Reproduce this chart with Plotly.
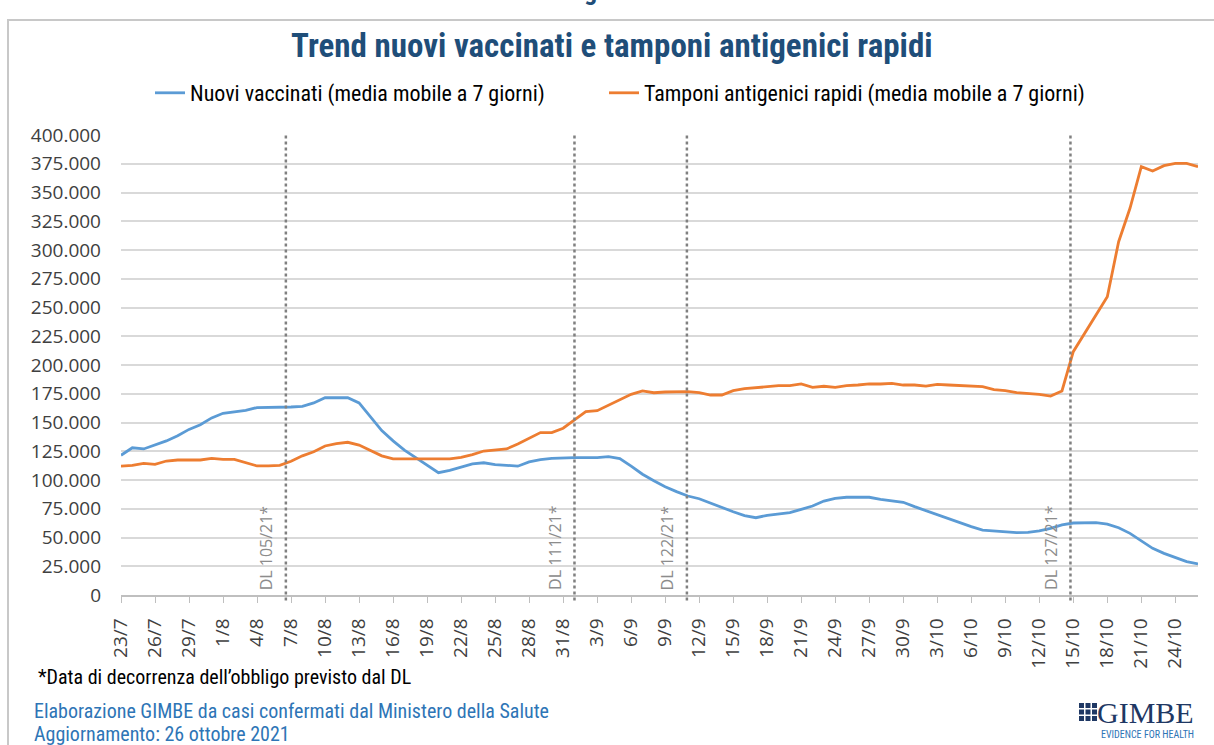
import pandas as pd
import plotly.graph_objects as go

# daily series, 23/7/2021 .. 26/10/2021 (7-day moving averages)
start_date = "2021-07-23"
end_date = "2021-10-26"

nuovi_vaccinati = [
    121500, 128000, 127000, 130500, 134000, 138500, 144000, 148000, 154000, 158000,
    159000, 160500, 163000, 163000, 163500, 163500, 164000, 167000, 171500, 171500,
    171500, 167000, 155000, 143000, 134000, 126000, 119400, 113000, 106400, 108400,
    111000, 114000, 115000, 113300, 112800, 112000, 115700, 117700, 118800, 119400,
    119400, 119400, 119400, 120300, 118600, 112000, 105000, 99400, 94200, 89900,
    86100, 83700, 79700, 76200, 72400, 69000, 67200, 69300, 70200, 71600,
    74500, 77400, 81700, 84000, 85000, 85000, 85000, 83200, 81700, 80600,
    76800, 73300, 69600, 65800, 62300, 59400, 56500, 55700, 54800, 54200,
    54500, 55700, 58000, 60900, 62600, 62700, 62900, 61700, 58500, 53600,
    47200, 40600, 36200, 32800, 29000, 27000,
]

tamponi_rapidi = [
    112000, 112800, 114500, 113600, 116500, 117400, 117400, 117400, 118800, 118000,
    118000, 115000, 112200, 112200, 112800, 116300, 121000, 124500, 129600, 131600,
    132800, 130400, 126000, 121000, 118300, 118300, 118300, 117700, 118000, 118300,
    119700, 122000, 125200, 126000, 127000, 131300, 136000, 141200, 141200, 145000,
    152200, 159400, 160300, 165200, 170200, 174500, 177400, 175900, 176500, 176800,
    176800, 175900, 173900, 173900, 177700, 179400, 180300, 181500, 182000, 182000,
    183500, 180600, 181500, 180600, 182000, 182600, 183500, 183500, 184100, 182600,
    182600, 181700, 183200, 182600, 182000, 181200, 181200, 178600, 177700, 175900,
    175400, 174500, 173000, 177400, 211600, 227600, 243500, 259400, 307200, 336300,
    372500, 368700, 373300, 375400, 375400, 372500,
]

# decree start dates (vertical reference lines)
dl_labels = ["DL 105/21*", "DL 111/21*", "DL 122/21*", "DL 127/21*"]
dl_dates = ["2021-08-06 13:00", "2021-09-01 00:00", "2021-09-10 22:00", "2021-10-14 18:00"]

BLUE = "#5B9BD5"
ORANGE = "#ED7D31"
TITLE_BLUE = "#1F4E79"
NARROW = "Liberation Sans Narrow, Roboto Condensed, Liberation Sans, sans-serif"
TICK_FONT = "Open Sans, DejaVu Sans, sans-serif"

W, H = 1214, 745
L, R, T, B = 121, 16, 135, 150


def px_x(px):
    return (px - L) / (W - L - R)


def px_y(py):
    return (H - B - py) / (H - T - B)


dates = pd.date_range(start_date, end_date, freq="D")
tick_dates = dates[::3]
tick_text = [f"{d.day}/{d.month}" for d in tick_dates]

fig = go.Figure()
fig.add_trace(go.Scatter(
    x=dates, y=nuovi_vaccinati, mode="lines",
    name="Nuovi vaccinati (media mobile a 7 giorni)",
    line={"color": BLUE, "width": 2.8}, legend="legend",
))
fig.add_trace(go.Scatter(
    x=dates, y=tamponi_rapidi, mode="lines",
    name="Tamponi antigenici rapidi (media mobile a 7 giorni)",
    line={"color": ORANGE, "width": 2.8}, legend="legend2",
))

for label, d in zip(dl_labels, dl_dates):
    fig.add_shape(
        type="line", xref="x", yref="paper", x0=d, x1=d, y0=-0.012, y1=1,
        line={"color": "#808080", "width": 2.5, "dash": "dot"},
    )
    fig.add_annotation(
        x=d, xref="x", y=0, yref="paper", text=label, showarrow=False,
        textangle=-90, xanchor="right", yanchor="bottom", xshift=-7, yshift=3,
        font={"family": TICK_FONT, "size": 16, "color": "#8c8c8c"},
    )

# chart-area frame
fig.add_shape(
    type="rect", xref="paper", yref="paper",
    x0=px_x(8), x1=px_x(1230), y0=px_y(760), y1=px_y(20),
    line={"color": "#c8c8c8", "width": 2},
)

footer = [
    ("*Data di decorrenza dell\u2019obbligo previsto dal DL", 36, 677, "#000000"),
    ("Elaborazione GIMBE da casi confermati dal Ministero della Salute", 32, 711, "#2E75B6"),
    ("Aggiornamento: 26 ottobre 2021", 32, 734, "#2E75B6"),
]
for text, x, y, color in footer:
    fig.add_annotation(
        x=px_x(x), y=px_y(y), xref="paper", yref="paper", text=text,
        showarrow=False, xanchor="left", yanchor="middle",
        font={"family": NARROW, "size": 20, "color": color},
    )

# GIMBE logo (approximation)
for i in range(3):
    for j in range(3):
        fig.add_shape(
            type="rect", xref="paper", yref="paper",
            x0=px_x(1079 + i * 6.5), x1=px_x(1084 + i * 6.5),
            y0=px_y(708 + j * 6.5), y1=px_y(703 + j * 6.5),
            line={"width": 0}, fillcolor="#1F3864",
        )
fig.add_annotation(
    x=px_x(1196), y=px_y(712), xref="paper", yref="paper", text="GIMBE",
    showarrow=False, xanchor="right", yanchor="middle",
    font={"family": "Liberation Serif, DejaVu Serif, serif", "size": 30, "color": "#1F3864"},
)
fig.add_annotation(
    x=px_x(1196), y=px_y(734), xref="paper", yref="paper", text="EVIDENCE FOR HEALTH",
    showarrow=False, xanchor="right", yanchor="middle",
    font={"family": NARROW, "size": 10, "color": "#2E75B6"},
)

# clipped header from the page above
fig.add_annotation(
    x=px_x(607), y=px_y(-9), xref="paper", yref="paper", text="<b>Figura 6</b>",
    showarrow=False, xanchor="center", yanchor="middle",
    font={"family": NARROW, "size": 26, "color": TITLE_BLUE},
)

legend_common = {
    "orientation": "h", "xanchor": "left", "y": px_y(93), "yanchor": "middle",
    "font": {"family": NARROW, "size": 22, "color": "#000000"},
    "bgcolor": "rgba(0,0,0,0)",
}

fig.update_layout(
    width=W, height=H,
    margin={"l": L, "r": R, "t": T, "b": B},
    paper_bgcolor="white", plot_bgcolor="white",
    separators=",.",
    title={
        "text": "<b>Trend nuovi vaccinati e tamponi antigenici rapidi</b>",
        "x": 0.504, "xref": "container", "xanchor": "center",
        "y": 1 - 45 / H, "yref": "container", "yanchor": "middle",
        "font": {"family": NARROW, "size": 33, "color": TITLE_BLUE},
    },
    legend={**legend_common, "x": px_x(150)},
    legend2={**legend_common, "x": px_x(604)},
    showlegend=True,
    xaxis={
        "range": [dates[0], dates[-1]],
        "tickvals": tick_dates, "ticktext": tick_text,
        "tickangle": -90, "showgrid": False,
        "showline": True, "linecolor": "#bfbfbf", "linewidth": 1.5,
        "ticks": "outside", "ticklen": 6, "tickcolor": "#bfbfbf",
        "ticklabelstandoff": 8,
        "tickfont": {"family": TICK_FONT, "size": 19, "color": "#404040"},
        "zeroline": False,
    },
    yaxis={
        "range": [0, 400000], "dtick": 25000, "tickformat": ",d",
        "showgrid": True, "gridcolor": "#d9d9d9", "gridwidth": 1.5,
        "zeroline": False, "showline": False,
        "ticks": "", "ticklabelstandoff": 19,
        "tickfont": {"family": TICK_FONT, "size": 19, "color": "#404040"},
    },
)

# drop the default page margin so the figure sits at the window's top-left corner
fig.write_html(
    "out.html",
    config={"displayModeBar": False},
    post_script="document.body.style.margin = '0';",
)
